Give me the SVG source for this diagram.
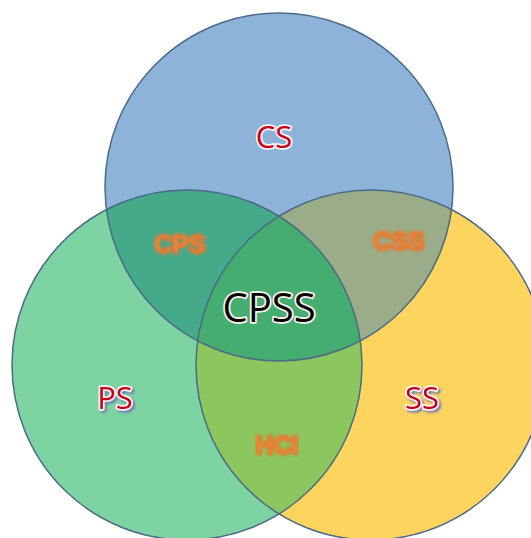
<svg xmlns="http://www.w3.org/2000/svg" width="531" height="538" viewBox="0 0 531 538">
  <defs>
    <circle id="c-cs" cx="279" cy="187" r="174"/>
    <circle id="c-ps" cx="187" cy="365" r="175"/>
    <circle id="c-ss" cx="371" cy="365" r="175"/>
    <clipPath id="clip-cs"><use href="#c-cs"/></clipPath>
    <clipPath id="clip-ss"><use href="#c-ss"/></clipPath>
    <clipPath id="clip-ps"><use href="#c-ps"/></clipPath>
    <filter id="soft" x="-20%" y="-30%" width="140%" height="160%">
      <feGaussianBlur stdDeviation="1.4"/>
    </filter>
    <filter id="shadow" x="-20%" y="-30%" width="140%" height="160%">
      <feDropShadow dx="2" dy="2" stdDeviation="1" flood-color="#6f74b8" flood-opacity="0.9"/>
    </filter>
  </defs>
  <style>
    .ring { fill: none; stroke: #4b6a86; stroke-width: 1.5; }
    .main { font-family: "Open Sans", "Liberation Sans", sans-serif; font-weight: 500; text-anchor: middle; dominant-baseline: central; paint-order: stroke; stroke: #fff4f0; stroke-width: 3.5; stroke-linejoin: round; }
    .red { fill: #c5001e; font-size: 31px; }
    .core { fill: #000000; font-size: 40px; }
    .pair { font-family: "Liberation Sans", sans-serif; font-weight: bold; font-size: 25px; text-anchor: middle; dominant-baseline: central; fill: #f2a050; stroke: #e8742a; stroke-width: 2.4; filter: url(#soft); }
  </style>

  <rect width="531" height="538" fill="#ffffff"/>

  <!-- set circles -->
  <g id="set-cs"><use href="#c-cs" fill="#8db3da"/></g>
  <g id="set-ps"><use href="#c-ps" fill="#7ed3a3"/></g>
  <g id="set-ss"><use href="#c-ss" fill="#fdd45e"/></g>

  <!-- pairwise overlaps -->
  <g id="overlap-cps" clip-path="url(#clip-cs)"><use href="#c-ps" fill="#45aa8a"/></g>
  <g id="overlap-css" clip-path="url(#clip-cs)"><use href="#c-ss" fill="#9bad88"/></g>
  <g id="overlap-hci" clip-path="url(#clip-ps)"><use href="#c-ss" fill="#8cc65f"/></g>
  <g id="overlap-cpss" clip-path="url(#clip-cs)"><g clip-path="url(#clip-ps)"><use href="#c-ss" fill="#46ad70"/></g></g>

  <!-- outlines -->
  <g id="outlines">
    <use href="#c-cs" class="ring"/>
    <use href="#c-ps" class="ring" stroke="#3f7f78"/>
    <use href="#c-ss" class="ring" stroke="#7a7a6a"/>
  </g>

  <!-- labels -->
  <g id="label-cs"><text class="main red" x="274" y="136">CS</text></g>
  <g id="label-ps" filter="url(#shadow)"><text class="main red" x="115" y="397">PS</text></g>
  <g id="label-ss" filter="url(#shadow)"><text class="main red" x="422" y="397">SS</text></g>
  <g id="label-cpss"><text class="main core" x="269" y="306">CPSS</text></g>
  <g id="label-cps"><text class="pair" x="180" y="244">CPS</text></g>
  <g id="label-css"><text class="pair" x="399" y="241">CSS</text></g>
  <g id="label-hci"><text class="pair" x="277" y="445">HCI</text></g>
</svg>
